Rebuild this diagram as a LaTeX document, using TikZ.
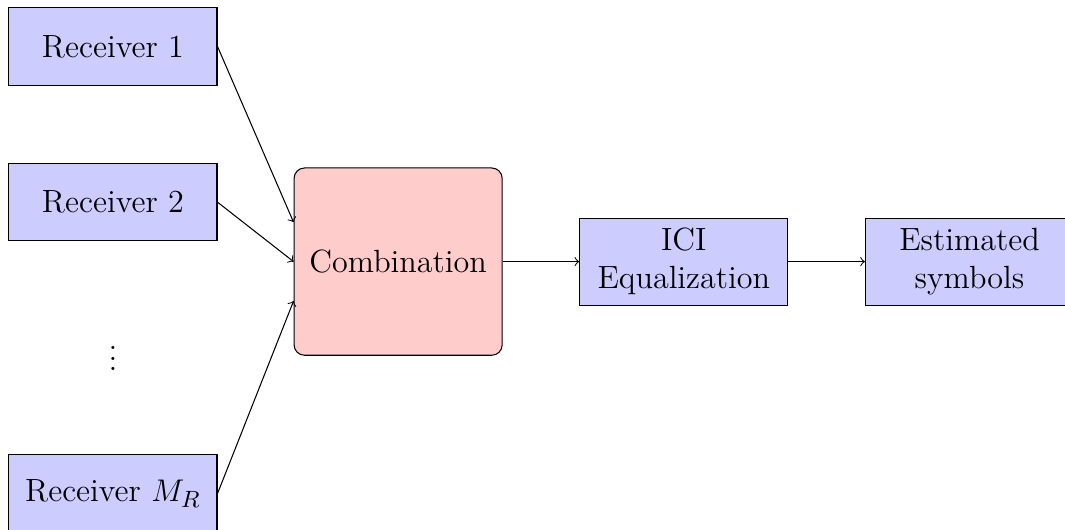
\documentclass[tikz,border=0pt]{standalone}
\usetikzlibrary{positioning}
\begin{document}
\begin{tikzpicture}[font=\fontsize{12.3}{14.5}\selectfont,
        blk/.style={draw,fill=blue!20,minimum width=2.8cm,minimum height=1.04cm,align=center},
        combblk/.style={draw,fill=red!20,rounded corners,minimum width=2.8cm,minimum height=2.52cm}]
        \useasboundingbox (0,0) rectangle (14.33,-7.12);
        \node[blk](rec1) at (1.52,-.626){Receiver 1};
        \node[blk,below=1.04cm of rec1](rec2){Receiver 2};
        \node(dots) at (1.52,-4.72){\(\vdots\)};
        \node[blk](recM) at (1.52,-6.64){Receiver \(M_R\)};
        \node[combblk](comb) at (5.357,-3.52){Combination};
        \node[blk,minimum height=1.17cm,right=1.03cm of comb](ici){ICI\\Equalization};
        \node[blk,minimum height=1.17cm,right=1.03cm of ici](est){Estimated\\symbols};
        \draw[->] (rec1.east)--([yshift=.53cm]comb.west);
        \draw[->] (rec2.east)--(comb.west);
        \draw[->] (recM.east)--([yshift=-.53cm]comb.west);
        \draw[->] (comb)--(ici);
        \draw[->] (ici)--(est);
    \end{tikzpicture}
\end{document}
